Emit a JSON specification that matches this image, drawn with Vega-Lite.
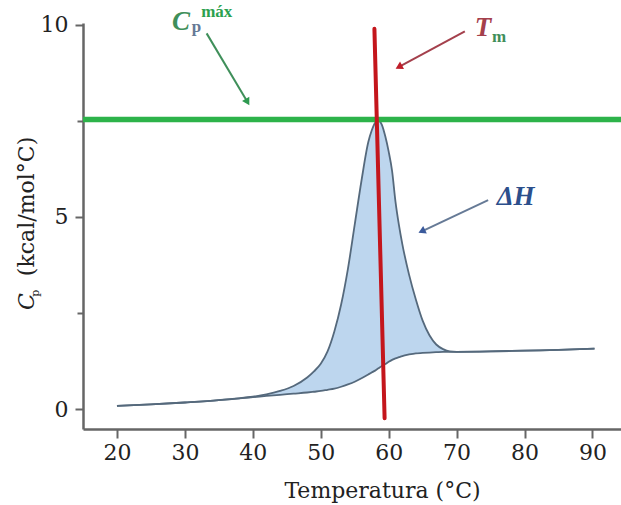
{
  "$schema": "https://vega.github.io/schema/vega-lite/v6.json",
  "width": 538,
  "height": 406,
  "autosize": {"type": "none"},
  "padding": {"left": 83, "top": 23, "right": 0, "bottom": 76},
  "background": "white",
  "config": {"view": {"stroke": null}},
  "datasets": {
    "curve": [
      {"t": 20, "up": 0.08, "lo": 0.08},
      {"t": 25, "up": 0.12, "lo": 0.12},
      {"t": 30, "up": 0.17, "lo": 0.17},
      {"t": 35, "up": 0.23, "lo": 0.23},
      {"t": 38, "up": 0.28, "lo": 0.28},
      {"t": 40, "up": 0.32, "lo": 0.31},
      {"t": 42, "up": 0.38, "lo": 0.34},
      {"t": 44, "up": 0.47, "lo": 0.37},
      {"t": 46, "up": 0.6, "lo": 0.4},
      {"t": 48, "up": 0.82, "lo": 0.43},
      {"t": 49, "up": 0.98, "lo": 0.45},
      {"t": 50, "up": 1.18, "lo": 0.47},
      {"t": 51, "up": 1.5, "lo": 0.5},
      {"t": 52, "up": 2.02, "lo": 0.53},
      {"t": 53, "up": 2.72, "lo": 0.58},
      {"t": 54, "up": 3.65, "lo": 0.64},
      {"t": 55, "up": 4.8, "lo": 0.71},
      {"t": 56, "up": 5.95, "lo": 0.8},
      {"t": 57, "up": 6.95, "lo": 0.9},
      {"t": 57.5, "up": 7.25, "lo": 0.95},
      {"t": 58, "up": 7.45, "lo": 1.0},
      {"t": 58.5, "up": 7.5, "lo": 1.06},
      {"t": 59, "up": 7.4, "lo": 1.12},
      {"t": 59.5, "up": 7.1, "lo": 1.17},
      {"t": 60, "up": 6.7, "lo": 1.23},
      {"t": 60.5, "up": 6.2, "lo": 1.28},
      {"t": 61, "up": 5.4, "lo": 1.32},
      {"t": 61.5, "up": 4.8, "lo": 1.35},
      {"t": 62, "up": 4.3, "lo": 1.38},
      {"t": 63, "up": 3.5, "lo": 1.42},
      {"t": 64, "up": 2.85, "lo": 1.45},
      {"t": 65, "up": 2.3, "lo": 1.46},
      {"t": 66, "up": 1.92, "lo": 1.47},
      {"t": 67, "up": 1.68, "lo": 1.48},
      {"t": 68, "up": 1.56, "lo": 1.49},
      {"t": 69, "up": 1.5, "lo": 1.49},
      {"t": 70, "up": 1.49, "lo": 1.49},
      {"t": 75, "up": 1.5, "lo": 1.5},
      {"t": 80, "up": 1.52, "lo": 1.52},
      {"t": 85, "up": 1.54, "lo": 1.54},
      {"t": 90.3, "up": 1.57, "lo": 1.57}
    ],
    "arrows": [
      {"name": "Cp", "x": 33.2, "y": 9.78, "x2": 39.13, "y2": 8.02},
      {"name": "Tm", "x": 71.21, "y": 9.83, "x2": 61.65, "y2": 8.92},
      {"name": "dH", "x": 74.64, "y": 5.44, "x2": 65.03, "y2": 4.64}
    ]
  },
  "encoding": {},
  "layer": [
    {
      "data": {"name": "curve"},
      "mark": {"type": "area", "fill": "#bdd6ee", "interpolate": "monotone", "opacity": 1},
      "encoding": {
        "x": {
          "field": "t", "type": "quantitative",
          "scale": {"domain": [15, 94.2], "nice": false, "zero": false},
          "axis": {
            "title": "Temperatura (°C)",
            "values": [20, 25, 30, 35, 40, 45, 50, 55, 60, 65, 70, 75, 80, 85, 90],
            "labelExpr": "datum.value % 10 === 0 ? datum.label : ''",
            "grid": false,
            "domainColor": "#666", "domainWidth": 2.5,
            "tickColor": "#666", "tickWidth": 2,
            "tickSize": {"condition": {"test": "datum.value % 10 === 0", "value": 9}, "value": 4},
            "labelFont": "DejaVu Serif", "labelFontSize": 22, "labelColor": "#222",
            "labelPadding": 4, "labelFlush": false, "labelOverlap": false,
            "titleFont": "DejaVu Serif", "titleFontSize": 22, "titleFontWeight": "normal",
            "titleColor": "#222", "titleX": 299, "titleY": 68,
            "titleAlign": "center", "titleBaseline": "alphabetic"
          }
        },
        "y": {
          "field": "up", "type": "quantitative",
          "scale": {"domain": [-0.52, 10.05], "nice": false, "zero": false},
          "axis": {
            "title": null,
            "values": [0, 2.5, 5, 7.5, 10],
            "labelExpr": "datum.value % 5 === 0 ? datum.label : ''",
            "grid": false,
            "domainColor": "#666", "domainWidth": 2.5,
            "tickColor": "#666", "tickWidth": 2,
            "tickSize": {"condition": {"test": "datum.value % 5 === 0", "value": 8}, "value": 6},
            "labelFont": "DejaVu Serif", "labelFontSize": 22, "labelColor": "#222",
            "labelPadding": 7, "labelFlush": false, "labelOverlap": false
          }
        },
        "y2": {"field": "lo"}
      }
    },
    {
      "data": {"name": "curve"},
      "mark": {"type": "line", "stroke": "#55697c", "strokeWidth": 1.8, "interpolate": "monotone"},
      "encoding": {
        "x": {"field": "t", "type": "quantitative"},
        "y": {"field": "up", "type": "quantitative"}
      }
    },
    {
      "data": {"name": "curve"},
      "mark": {"type": "line", "stroke": "#55697c", "strokeWidth": 1.8, "interpolate": "monotone"},
      "encoding": {
        "x": {"field": "t", "type": "quantitative"},
        "y": {"field": "lo", "type": "quantitative"}
      }
    },
    {
      "data": {"values": [{"v": 7.54}]},
      "mark": {"type": "rule", "stroke": "#2db34a", "strokeWidth": 5.5},
      "encoding": {"y": {"field": "v", "type": "quantitative"}}
    },
    {
      "data": {"values": [{"x": 57.9, "y": 9.9, "x2": 59.4, "y2": -0.24}]},
      "mark": {"type": "rule", "stroke": "#c4161c", "strokeWidth": 4, "strokeCap": "round"},
      "encoding": {
        "x": {"field": "x", "type": "quantitative"},
        "y": {"field": "y", "type": "quantitative"},
        "x2": {"field": "x2"},
        "y2": {"field": "y2"}
      }
    },
    {
      "data": {"name": "arrows"},
      "mark": {"type": "rule", "strokeWidth": 2},
      "encoding": {
        "x": {"field": "x", "type": "quantitative"},
        "y": {"field": "y", "type": "quantitative"},
        "x2": {"field": "x2"},
        "y2": {"field": "y2"},
        "color": {"field": "name", "type": "nominal", "legend": null,
          "scale": {"domain": ["Cp", "Tm", "dH"], "range": ["#3f8f5a", "#a4404c", "#667a96"]}}
      }
    },
    {
      "data": {"name": "arrows"},
      "transform": [{"filter": "datum.name === 'Cp'"}],
      "mark": {"type": "point", "shape": "triangle", "filled": true, "size": 70, "angle": 149.5, "color": "#2e9a50", "opacity": 1},
      "encoding": {
        "x": {"field": "x2", "type": "quantitative"},
        "y": {"field": "y2", "type": "quantitative"}
      }
    },
    {
      "data": {"name": "arrows"},
      "transform": [{"filter": "datum.name === 'Tm'"}],
      "mark": {"type": "point", "shape": "triangle", "filled": true, "size": 70, "angle": 241.8, "color": "#bf1e2a", "opacity": 1},
      "encoding": {
        "x": {"field": "x2", "type": "quantitative"},
        "y": {"field": "y2", "type": "quantitative"}
      }
    },
    {
      "data": {"name": "arrows"},
      "transform": [{"filter": "datum.name === 'dH'"}],
      "mark": {"type": "point", "shape": "triangle", "filled": true, "size": 70, "angle": 244.6, "color": "#3a5a9c", "opacity": 1},
      "encoding": {
        "x": {"field": "x2", "type": "quantitative"},
        "y": {"field": "y2", "type": "quantitative"}
      }
    },
    {
      "data": {"values": [{"x": 28.1, "y": 9.87, "txt": "C"}, {"x": 72.68, "y": 9.71, "txt": "T"}]},
      "mark": {"type": "text", "font": "Liberation Serif", "fontSize": 27, "fontWeight": "bold", "fontStyle": "italic", "align": "left", "baseline": "alphabetic"},
      "encoding": {
        "x": {"field": "x", "type": "quantitative"},
        "y": {"field": "y", "type": "quantitative"},
        "text": {"field": "txt"},
        "color": {"field": "txt", "type": "nominal", "legend": null,
          "scale": {"domain": ["C", "T"], "range": ["#2ca14f", "#b5121b"]}}
      }
    },
    {
      "data": {"values": [{"x": 31.0, "y": 9.82, "txt": "p"}, {"x": 75.2, "y": 9.56, "txt": "m"}]},
      "mark": {"type": "text", "font": "Liberation Serif", "fontSize": 17, "fontWeight": "bold", "align": "left", "baseline": "alphabetic"},
      "encoding": {
        "x": {"field": "x", "type": "quantitative"},
        "y": {"field": "y", "type": "quantitative"},
        "text": {"field": "txt"},
        "color": {"field": "txt", "type": "nominal", "legend": null,
          "scale": {"domain": ["p", "m"], "range": ["#2ca14f", "#b5121b"]}}
      }
    },
    {
      "data": {"values": [{"x": 32.4, "y": 10.21, "txt": "máx"}]},
      "mark": {"type": "text", "font": "Liberation Serif", "fontSize": 17, "fontWeight": "bold", "align": "left", "baseline": "alphabetic", "color": "#2ca14f"},
      "encoding": {
        "x": {"field": "x", "type": "quantitative"},
        "y": {"field": "y", "type": "quantitative"},
        "text": {"field": "txt"}
      }
    },
    {
      "data": {"values": [{"x": 75.9, "y": 5.31, "txt": "ΔH"}]},
      "mark": {"type": "text", "font": "Liberation Serif", "fontSize": 27, "fontWeight": "bold", "fontStyle": "italic", "align": "left", "baseline": "alphabetic", "color": "#2c4f8c"},
      "encoding": {
        "x": {"field": "x", "type": "quantitative"},
        "y": {"field": "y", "type": "quantitative"},
        "text": {"field": "txt"}
      }
    },
    {
      "data": {"values": [{"x": 7.79, "y": 2.58, "txt": "C"}]},
      "mark": {"type": "text", "font": "DejaVu Serif", "fontSize": 22, "fontStyle": "italic", "angle": -90, "align": "left", "baseline": "alphabetic", "color": "#222"},
      "encoding": {
        "x": {"field": "x", "type": "quantitative"},
        "y": {"field": "y", "type": "quantitative"},
        "text": {"field": "txt"}
      }
    },
    {
      "data": {"values": [{"x": 8.53, "y": 2.92, "txt": "p"}]},
      "mark": {"type": "text", "font": "DejaVu Serif", "fontSize": 11, "angle": -90, "align": "left", "baseline": "alphabetic", "color": "#222"},
      "encoding": {
        "x": {"field": "x", "type": "quantitative"},
        "y": {"field": "y", "type": "quantitative"},
        "text": {"field": "txt"}
      }
    },
    {
      "data": {"values": [{"x": 7.79, "y": 3.46, "txt": "(kcal/mol°C)"}]},
      "mark": {"type": "text", "font": "DejaVu Serif", "fontSize": 22, "angle": -90, "align": "left", "baseline": "alphabetic", "color": "#222"},
      "encoding": {
        "x": {"field": "x", "type": "quantitative"},
        "y": {"field": "y", "type": "quantitative"},
        "text": {"field": "txt"}
      }
    }
  ]
}
